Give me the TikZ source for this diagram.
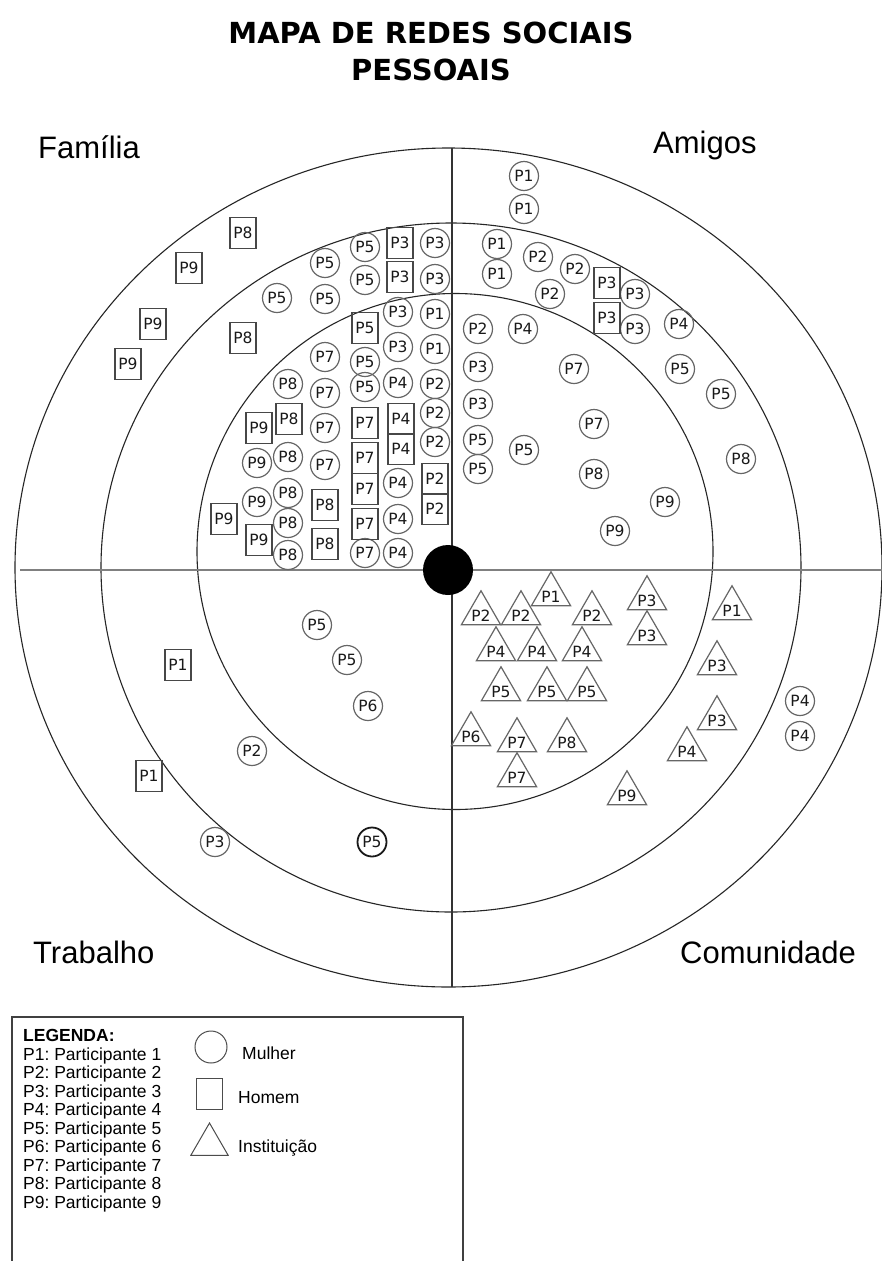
\documentclass[tikz,border=0pt]{standalone}
\usepackage{fontspec}
\setmainfont{Liberation Sans}
\newfontfamily\dejavu{DejaVu Sans}
\usetikzlibrary{shapes.geometric}
\newcommand\pfont{\dejavu\fontsize{15.5}{15.5}\selectfont}
\frenchspacing
\begin{document}
\begin{tikzpicture}[x=1pt,y=-1pt,
  ringline/.style={draw=black!85, line width=1.1pt},
  fem/.style={circle, draw=black!60, line width=1.2pt, minimum size=29pt, inner sep=0pt, font=\pfont, text=black!90},
  femb/.style={fem, draw=black!90, line width=1.8pt},
  masc/.style={rectangle, draw=black!72, line width=1.2pt, minimum width=26pt, minimum height=31pt, inner sep=0pt, font=\pfont, text=black!90},
  inst/.style={regular polygon, regular polygon sides=3, draw=black!60, line width=1.2pt, minimum size=43pt, inner sep=0pt, yshift=-5.4pt, text height=16pt, text depth=0pt, font=\pfont, text=black!90},
  quad/.style={font=\fontsize{31}{31}\selectfont, inner sep=0pt, anchor=base west},
  leg/.style={font=\fontsize{17.5}{18.5}\selectfont, inner sep=0pt, anchor=base west},
  titl/.style={font=\dejavu\bfseries\fontsize{29}{29}\selectfont, inner sep=0pt, anchor=base},
]
\fill[white] (0,0) rectangle (882,1261);
\path[use as bounding box] (0,0) rectangle (882,1261);

% title
\node[titl] (title1) at (431,43) {MAPA DE REDES SOCIAIS};
\node[titl] (title2) at (431,80) {PESSOAIS};

% rings and axes
\draw[ringline] (448.5,567.5) ellipse [x radius=433.5pt, y radius=419.5pt];
\draw[ringline] (451,567.5) ellipse [x radius=350pt, y radius=344.5pt];
\draw[ringline] (455,551.5) circle [radius=258pt];
\draw[draw=black!50, line width=2pt] (20,570) -- (882,570);
\draw[draw=black!80, line width=1.1pt] (452,148) -- (452,987);
\node[circle, fill=black, minimum size=50pt, inner sep=0pt] (ego) at (448,570) {};

% quadrant labels
\node[quad] (familia) at (38,158) {Família};
\node[quad] (amigos) at (653,153) {Amigos};
\node[quad] (trabalho) at (33,963) {Trabalho};
\node[quad] (comunidade) at (680,963) {Comunidade};

% women (circles)
\foreach \x/\y/\t [count=\i] in {
 277/298/P5, 325/263/P5, 325/299/P5, 365/247/P5, 365/280/P5, 435/243/P3, 435/279/P3,
 398/312/P3, 435/314/P1, 398/347/P3, 435/349/P1, 325/357/P7, 365/362/P5, 398/383/P4,
 435/384/P2, 288/384/P8, 325/393/P7, 365/387/P5, 325/428/P7, 435/413/P2, 435/442/P2,
 288/457/P8, 325/465/P7, 398/483/P4, 288/493/P8, 288/523/P8, 398/519/P4, 288/555/P8,
 365/553/P7, 398/553/P4, 257/463/P9, 257/502/P9,
 524/176/P1, 524/209/P1, 497/244/P1, 497/274/P1, 538/257/P2, 575/269/P2, 550/294/P2,
 635/294/P3, 635/329/P3, 679/324/P4, 478/329/P2, 523/329/P4, 478/367/P3, 574/369/P7,
 680/369/P5, 721/394/P5, 478/404/P3, 594/424/P7, 478/440/P5, 524/450/P5, 741/459/P8,
 478/469/P5, 594/474/P8, 665/502/P9, 615/531/P9,
 800/701/P4, 800/736/P4,
 317/625/P5, 347/660/P5, 368/706/P6, 252/751/P2, 215/842/P3}
 \node[fem] (f\i) at (\x,\y) {\t};
\node[femb] (fb1) at (372,842) {P5};

% men (squares)
\foreach \x/\y/\t [count=\i] in {
 243/233/P8, 189/268/P9, 153/324/P9, 128/364/P9, 243/338/P8, 259/428/P9, 224/519/P9,
 259/540/P9, 400/243/P3, 400/277/P3, 365/328/P5, 289/419/P8, 365/423/P7, 401/419/P4,
 401/449/P4, 365/458/P7, 365/489/P7, 435/479/P2, 435/509/P2, 325/505/P8, 365/524/P7,
 325/544/P8,
 607/283/P3, 607/318/P3,
 178/665/P1, 149/776/P1}
 \node[masc] (m\i) at (\x,\y) {\t};

% institutions (triangles)
\foreach \x/\y/\t [count=\i] in {
 551/589/P1, 481/608/P2, 521/608/P2, 592/608/P2, 647/593/P3, 647/628/P3, 732/603/P1,
 496/644/P4, 537/644/P4, 582/644/P4, 717/658/P3, 501/684/P5, 547/684/P5, 587/684/P5,
 717/713/P3, 471/729/P6, 517/735/P7, 567/735/P8, 687/744/P4, 517/770/P7, 627/788/P9}
 \node[inst] (t\i) at (\x,\y) {\makebox[14pt]{\t}};

% legend
\draw[draw=black!75, line width=1.3pt] (12,1270) -- (12,1017) -- (463,1017) -- (463,1270);
\node[leg] (legtitle) at (23,1041.5) {\textbf{LEGENDA:}};
\foreach \i in {1,...,9}
 \node[leg] (leg\i) at (23,{1060+(\i-1)*18.5}) {P\i: Participante \i};
\node[circle, draw=black!70, line width=1pt, minimum size=32pt, inner sep=0pt] (symf) at (211,1047) {};
\node[leg] (lblf) at (242,1059) {Mulher};
\node[rectangle, draw=black!70, line width=1pt, minimum width=26pt, minimum height=31pt, inner sep=0pt] (symm) at (209,1093.5) {};
\node[leg] (lblm) at (238,1103.3) {Homem};
\node[regular polygon, regular polygon sides=3, draw=black!70, line width=1pt, minimum size=43pt, inner sep=0pt] (symt) at (209.5,1144.5) {};
\node[leg] (lblt) at (238,1152) {Instituição};
\end{tikzpicture}
\end{document}
